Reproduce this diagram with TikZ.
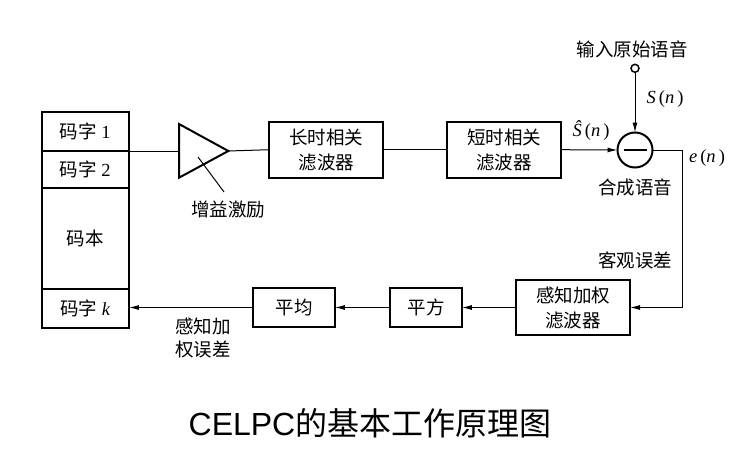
\documentclass[tikz,border=0pt]{standalone}
\usepackage{fontspec}
\setmainfont{Liberation Serif}
\newfontfamily\cjk{Noto Sans CJK SC}
\newfontfamily\titlefont{Liberation Sans}
\usetikzlibrary{arrows.meta}
\tikzset{
  blk/.style={draw, line width=2pt, inner sep=0pt, outer sep=0pt, align=center, font=\fontsize{18.5}{25}\selectfont},
  conn/.style={line width=1pt},
  arr/.style={line width=1pt, -{Latex[length=10pt,width=5pt]}},
  lbl/.style={inner sep=0pt, align=center, font=\fontsize{18.5}{23}\selectfont},
}
\begin{document}
\begin{tikzpicture}[x=1pt,y=-1pt]
\useasboundingbox (0,0) rectangle (741,460);
% codebook
\node[blk, minimum width=87.3pt, minimum height=38.4pt] (cb1) at (85.3,131.5) {{\cjk 码字} 1};
\node[blk, minimum width=87.3pt, minimum height=37.6pt] (cb2) at (85.3,169.5) {{\cjk 码字} 2};
\node[blk, minimum width=87.3pt, minimum height=100.7pt] (cbb) at (85.3,238.6) {\cjk 码本};
\node[blk, minimum width=87.3pt, minimum height=38.5pt] (cbk) at (85.3,308.3) {{\cjk 码字} \textit{k}};
\coordinate (cbout) at (129,151);
% gain triangle
\coordinate (trl) at (179,151);
\coordinate (trt) at (228.3,151);
\draw[line width=2pt, line join=miter] (179,124) -- (228.3,151) -- (179,177.7) -- cycle;
\draw[conn] (198,157) -- (224,192);
\node[lbl] (gain) at (228,210) {\cjk 增益激励};
% filters
\node[blk, minimum width=114pt, minimum height=56pt] (lt) at (326.3,149.7) {\cjk 长时相关\\\cjk 滤波器};
\node[blk, minimum width=113.4pt, minimum height=56pt] (st) at (504,149.7) {\cjk 短时相关\\\cjk 滤波器};
% summing
\node[draw, circle, line width=2pt, minimum size=35pt, inner sep=0pt, outer sep=0pt] (sum) at (635,150) {};
\draw[line width=2.2pt] (623.5,150) -- (646.5,150);
\node[draw, circle, line width=1.5pt, minimum size=8pt, inner sep=0pt, outer sep=0pt] (inp) at (635,68.3) {};
\node[lbl] (inpl) at (632,49) {\cjk 输入原始语音};
\node[lbl] (sl) at (665,99) {\textit{S}\,(\textit{n}\,)};
\node[lbl] (shl) at (591,131) {\textit{\^S}\,(\textit{n}\,)};
\node[lbl] (el) at (707,158) {\textit{e}\,(\textit{n}\,)};
\node[lbl] (synl) at (635,187) {\cjk 合成语音};
\node[lbl] (objl) at (635,260) {\cjk 客观误差};
% bottom row
\node[blk, minimum width=114pt, minimum height=55pt] (pw) at (573,307.5) {\cjk 感知加权\\\cjk 滤波器};
\node[blk, minimum width=71.7pt, minimum height=38.4pt] (sq) at (426,307.5) {\cjk 平方};
\node[blk, minimum width=81.7pt, minimum height=38.4pt] (av) at (294,307.5) {\cjk 平均};
\node[lbl] (pel) at (203,338) {\cjk 感知加\\\cjk 权误差};
\coordinate (corner) at (682,150);
% connectors
\draw[conn] (cbout) -- (trl);
\draw[conn] (trt) -- (lt.west);
\draw[conn] (lt.east) -- (st.west);
\draw[arr] (st.east) -- (sum.west);
\draw[arr] (inp.south) -- (sum.north);
\draw[arr] (sum.east) -- (corner) |- (pw.east);
\draw[arr] (pw.west) -- (sq.east);
\draw[arr] (sq.west) -- (av.east);
\draw[arr] (av.west) -- (cbk.east |- av.west);
% title
\node[inner sep=0pt, font=\fontsize{32}{34}\selectfont] (title) at (370,423) {{\titlefont CELPC}{\cjk 的基本工作原理图}};
\end{tikzpicture}
\end{document}
